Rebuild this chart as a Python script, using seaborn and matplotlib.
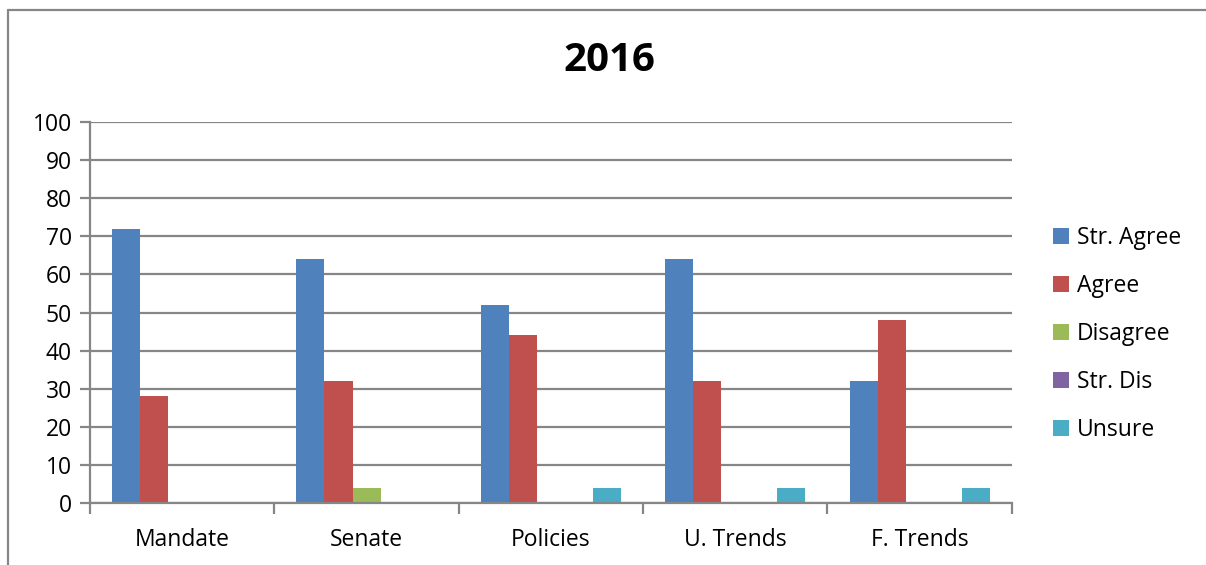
import matplotlib
matplotlib.use("Agg")
import matplotlib.pyplot as plt
import seaborn as sns
import pandas as pd
from matplotlib.lines import Line2D
from matplotlib.patches import Patch

categories = ["Mandate", "Senate", "Policies", "U. Trends", "F. Trends"]
series_names = ["Str. Agree", "Agree", "Disagree", "Str. Dis", "Unsure"]
str_agree = [72, 64, 52, 64, 32]
agree = [28, 32, 44, 32, 48]
disagree = [0, 4, 0, 0, 0]
str_dis = [0, 0, 0, 0, 0]
unsure = [0, 0, 4, 4, 4]
colors = ["#4F81BD", "#C0504D", "#9BBB59", "#8064A2", "#4BACC6"]

rows = []
for name, vals in zip(series_names, [str_agree, agree, disagree, str_dis, unsure]):
    for cat, v in zip(categories, vals):
        rows.append({"category": cat, "series": name, "value": v})
df = pd.DataFrame(rows)

sns.set_style("white")
plt.rcParams['font.family'] = ['Open Sans', 'DejaVu Sans']
plt.rcParams['text.color'] = 'black'
plt.rcParams['xtick.color'] = 'black'
plt.rcParams['ytick.color'] = 'black'

fig = plt.figure(figsize=(12.06, 5.65), dpi=100)
ax = fig.add_axes([0.0746, 0.1097, 0.7644, 0.6743])

sns.barplot(data=df, x="category", y="value", hue="series", order=categories,
            hue_order=series_names, palette=colors, width=0.76, saturation=1,
            linewidth=0, ax=ax, legend=False)

grid_c = "#868686"
ax.set_ylim(0, 100)
ax.set_xlim(-0.5, 4.5)
ax.set_yticks(range(0, 101, 10))
ax.yaxis.grid(True, color=grid_c, linewidth=1.6)
ax.set_axisbelow(True)
for s in ["top", "right"]:
    ax.spines[s].set_visible(False)
for s in ["left", "bottom"]:
    ax.spines[s].set_color(grid_c)
    ax.spines[s].set_linewidth(1.6)
ax.tick_params(axis="y", which="major", length=7, width=1.6, color=grid_c,
               direction="out", left=True, labelsize=16.5, pad=6)
ax.tick_params(axis="x", which="major", length=0, labelsize=16.5, pad=18)
ax.set_xticks([i - 0.5 for i in range(6)], minor=True)
ax.tick_params(axis="x", which="minor", length=8, width=1.6, color=grid_c,
               direction="out", bottom=True)
ax.set_xlabel("")
ax.set_ylabel("")

fig.text(0.505, 0.893, "2016", ha="center", va="center", fontsize=29, fontweight="bold")

handles = [Patch(facecolor=c, edgecolor="none", label=n) for c, n in zip(colors, series_names)]
fig.legend(handles=handles, loc="upper left", bbox_to_anchor=(0.856, 0.637),
           frameon=False, fontsize=16.5, handlelength=0.7, handleheight=0.7,
           handletextpad=0.35, labelspacing=1.05)

# outer chart border (top and left visible)
fig.add_artist(Line2D([0.0066, 1.0], [0.982, 0.982], color=grid_c, linewidth=1.6,
                      transform=fig.transFigure))
fig.add_artist(Line2D([0.0066, 0.0066], [0.0, 0.982], color=grid_c, linewidth=1.6,
                      transform=fig.transFigure))

fig.savefig("out.png", dpi=100)
